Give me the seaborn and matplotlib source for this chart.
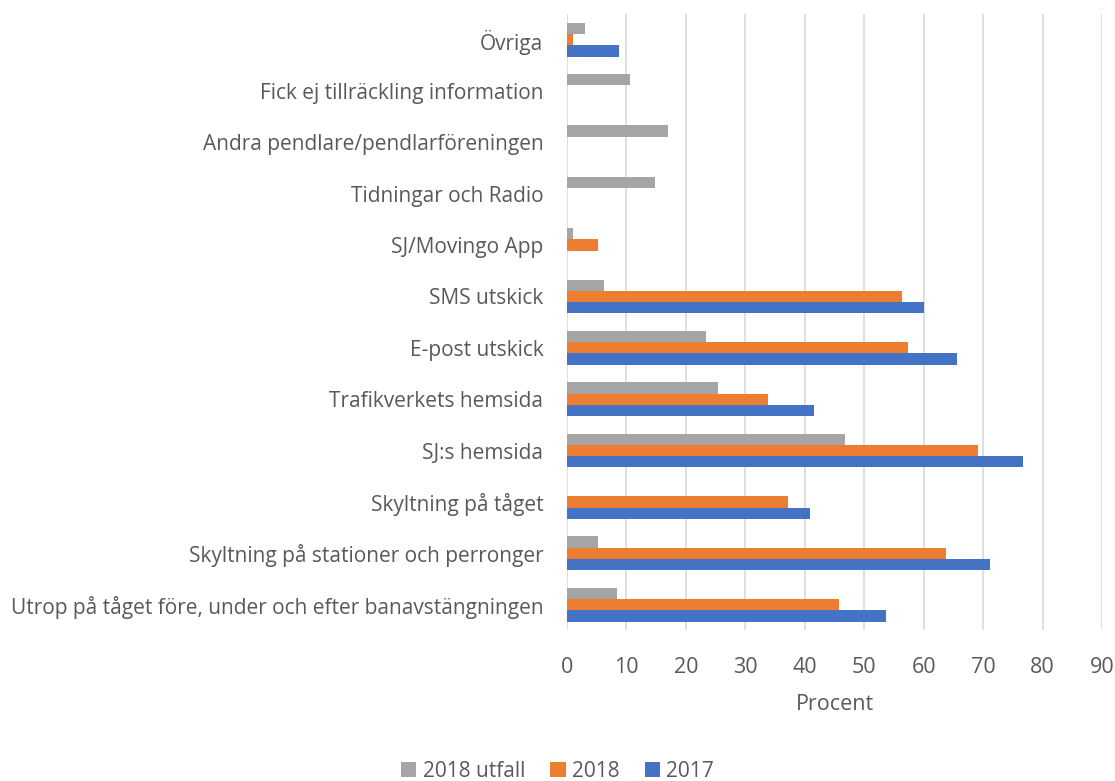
import matplotlib
matplotlib.use("Agg")
import matplotlib.pyplot as plt
import pandas as pd
import seaborn as sns

categories = [
    "Övriga",
    "Fick ej tillräckling information",
    "Andra pendlare/pendlarföreningen",
    "Tidningar och Radio",
    "SJ/Movingo App",
    "SMS utskick",
    "E-post utskick",
    "Trafikverkets hemsida",
    "SJ:s hemsida",
    "Skyltning på tåget",
    "Skyltning på stationer och perronger",
    "Utrop på tåget före, under och efter banavstängningen",
]
series_names = ["2018 utfall", "2018", "2017"]
utfall_2018 = [3.1, 10.6, 17.0, 14.8, 1.0, 6.3, 23.4, 25.4, 46.8, None, 5.2, 8.4]
values_2018 = [1.0, None, None, None, 5.2, 56.3, 57.4, 33.9, 69.1, 37.2, 63.8, 45.7]
values_2017 = [8.7, None, None, None, None, 60.0, 65.6, 41.6, 76.8, 40.8, 71.2, 53.6]
colors = ["#A5A5A5", "#ED7D31", "#4472C4"]
x_ticks = [0, 10, 20, 30, 40, 50, 60, 70, 80, 90]

rows = []
for name, vals in zip(series_names, [utfall_2018, values_2018, values_2017]):
    for cat, v in zip(categories, vals):
        if v is not None:
            rows.append({"Kategori": cat, "Serie": name, "Procent": v})
df = pd.DataFrame(rows)

sns.set_style("white")
plt.rcParams["font.family"] = ["Open Sans", "DejaVu Sans"]
text_color = "#595959"

fig = plt.figure(figsize=(11.15, 7.81), dpi=100)
ax = fig.add_axes([0.5085, 0.193, 0.4798, 0.789])

sns.barplot(data=df, y="Kategori", x="Procent", hue="Serie", order=categories,
            hue_order=series_names, palette=colors, orient="h", errorbar=None,
            width=0.66, saturation=1, linewidth=0, ax=ax)

ax.set_xlim(0, 90)
ax.set_xticks(x_ticks)
ax.set_ylim(len(categories) - 0.5, -0.5)
ax.xaxis.grid(True, color="#D9D9D9", linewidth=1.2)
ax.set_axisbelow(True)
for s in ax.spines.values():
    s.set_visible(False)
ax.tick_params(axis="x", length=0, pad=19, labelsize=15.5, labelcolor=text_color)
ax.tick_params(axis="y", length=0, pad=17, labelsize=15, labelcolor=text_color)
ax.set_ylabel("")
ax.set_xlabel("Procent", fontsize=15.5, color=text_color, labelpad=12)

handles, labels = ax.get_legend_handles_labels()
ax.legend(handles, labels, loc="center", bbox_to_anchor=(0.5, 0.012),
          bbox_transform=fig.transFigure, ncol=3, frameon=False,
          fontsize=15, labelcolor=text_color, handlelength=0.75, handleheight=0.75,
          handletextpad=0.3, columnspacing=1.2)

fig.savefig("out.png", dpi=100)
